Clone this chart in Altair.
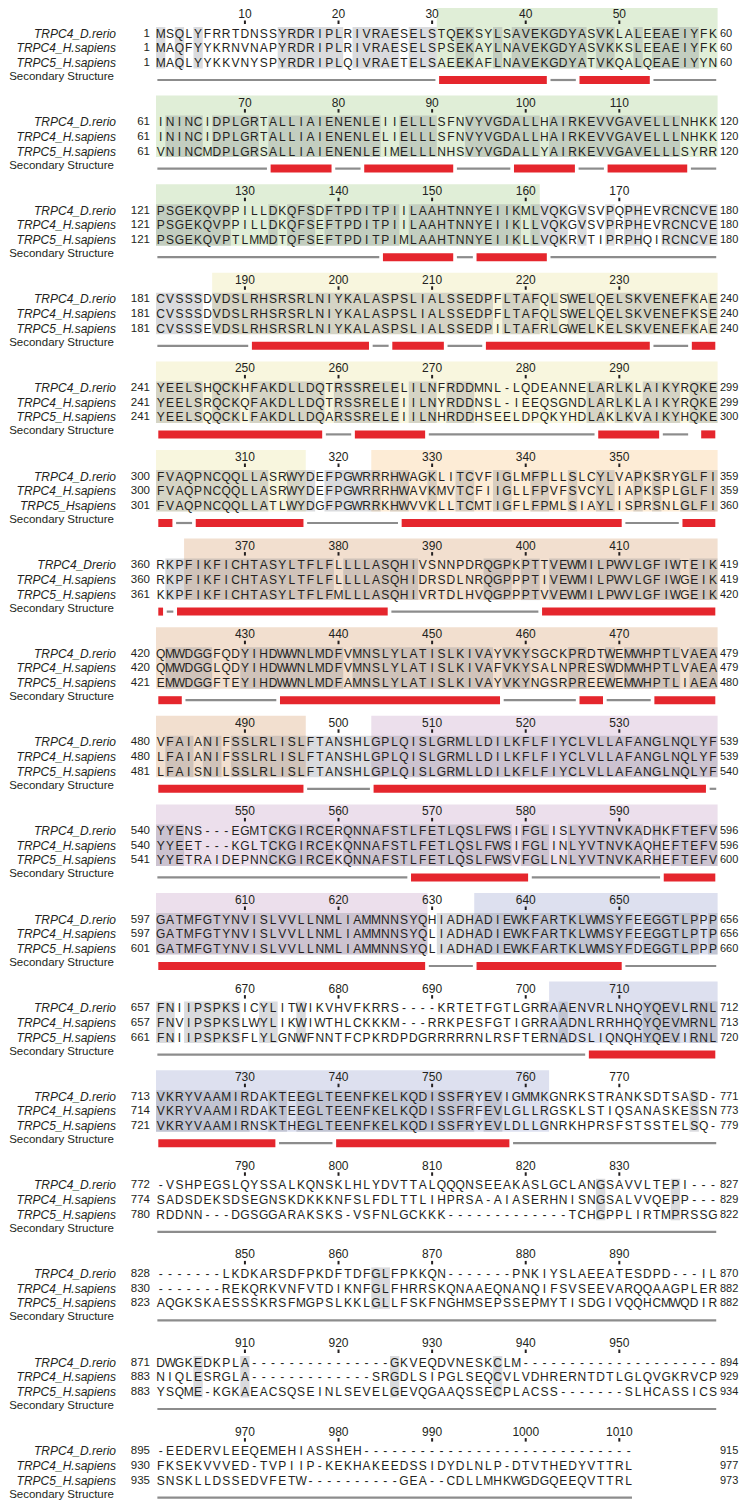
import altair as alt
import pandas as pd

# ---------------- data ----------------
NAMES = ["TRPC4_D.rerio", "TRPC4_H.sapiens", "TRPC5_H.sapiens"]
# (block index, row index) -> label as printed in that block
NAME_OVERRIDES = {(5, 2): "TRPC5_Hsapiens", (6, 0): "TRPC4_Drerio"}

SEQ_TRPC4_DRERIO = [
    "MSQLYFRRTDNSSYRDRIPLRIVRAESELSTQEKSYLSAVEKGDYASVKLALEEAEIYFK",
    "ININCIDPLGRTALLIAIENENLEIIELLLSFNVYVGDALLHAIRKEVVGAVELLLNHKK",
    "PSGEKQVPPILLDKQFSDFTPDITPIILAAHTNNYEIIKMLVQKGVSVPQPHEVRCNCVE",
    "CVSSSDVDSLRHSRSRLNIYKALASPSLIALSSEDPFLTAFQLSWELQELSKVENEFKAE",
    "YEELSHQCKHFAKDLLDQTRSSRELELILNFRDDMNL-LQDEANNELARLKLAIKYRQKE",
    "FVAQPNCQQLLASRWYDEFPGWRRRHWAGKLITCVFIGLMFPLLSLCYLVAPKSRYGLFI",
    "RKPFIKFICHTASYLTFLFLLLLASQHIVSNNPDRQGPKPTTVEWMILPWVLGFIWTEIK",
    "QMWDGGFQDYIHDWWNLMDFVMNSLYLATISLKIVAYVKYSGCKPRDTWEMWHPTLVAEA",
    "VFAIANIFSSLRLISLFTANSHLGPLQISLGRMLLDILKFLFIYCLVLLAFANGLNQLYF",
    "YYENS---EGMTCKGIRCERQNNAFSTLFETLQSLFWSIFGLISLYVTNVKADHKFTEFV",
    "GATMFGTYNVISLVVLLNMLIAMMNNSYQHIADHADIEWKFARTKLWMSYFEEGGTLPPP",
    "FNIIPSPKSICYLITWIKVHVFKRRS----KRTETFGTLGRRAAENVRLNHQYQEVLRNL",
    "VKRYVAAMIRDAKTEEGLTEENFKELKQDISSFRYEVIGMMKGNRKSTRANKSDTSASD-",
    "-VSHPEGSLQYSSALKQNSKLHLYDVTTALQQQNSEEAKASLGCLANGSAVVLTEPI---",
    "-------LKDKARSDFPKDFTDFGLFPKKQN-------PNKIYSLAEEATESDPD---IL",
    "DWGKEDKPLA" + "-" * 15 + "GKVEQDVNESKCLM" + "-" * 21,
    "-EEDERVLEEQEMEHIASSHEH" + "-" * 29,
]
SEQ_TRPC4_HSAP = [
    "MAQFYYKRNVNAPYRDRIPLRIVRAESELSPSEKAYLNAVEKGDYASVKKSLEEAEIYFK",
    "ININCIDPLGRTALLIAIENENLELIELLLSFNVYVGDALLHAIRKEVVGAVELLLNHKK",
    "PSGEKQVPPILLDKQFSEFTPDITPIILAAHTNNYEIIKLLVQKGVSVPRPHEVRCNCVE",
    "CVSSSDVDSLRHSRSRLNIYKALASPSLIALSSEDPFLTAFQLSWELQELSKVENEFKSE",
    "YEELSRQCKQFAKDLLDQTRSSRELEIILNYRDDNSL-IEEQSGNDLARLKLAIKYRQKE",
    "FVAQPNCQQLLASRWYDEFPGWRRRHWAVKMVTCFIIGLLFPVFSVCYLIAPKSPLGLFI",
    "RKPFIKFICHTASYLTFLFLLLLASQHIDRSDLNRQGPPPTIVEWMILPWVLGFIWGEIK",
    "QMWDGGLQDYIHDWWNLMDFVMNSLYLATISLKIVAFVKYSALNPRESWDMWHPTLVAEA",
    "LFAIANIFSSLRLISLFTANSHLGPLQISLGRMLLDILKFLFIYCLVLLAFANGLNQLYF",
    "YYEET---KGLTCKGIRCEKQNNAFSTLFETLQSLFWSIFGLINLYVTNVKAQHEFTEFV",
    "GATMFGTYNVISLVVLLNMLIAMMNNSYQLIADHADIEWKFARTKLWMSYFEEGGTLPTP",
    "FNVIPSPKSLWYLIKWIWTHLCKKKM---RRKPESFGTIGRRAADNLRRHHQYQEVMRNL",
    "VKRYVAAMIRDAKTEEGLTEENFKELKQDISSFRFEVLGLLRGSKLSTIQSANASKESSN",
    "SADSDEKSDSEGNSKDKKKNFSLFDLTTLIHPRSA-AIASERHNISNGSALVVQEPP---",
    "-------REKQRKVNFVTDIKNFGLFHRRSKQNAAEQNANQIFSVSEEVARQQAAGPLER",
    "NIQLESRGLA" + "-" * 13 + "SRGDLSIPGLSEQCVLVDHRERNTDTLGLQVGKRVCP",
    "FKSEKVVVED-TVPIIP-KEKHAKEEDSSIDYDLNLP-DTVTHEDYVTTRL",
]
SEQ_TRPC5_HSAP = [
    "MAQLYYKKVNYSPYRDRIPLQIVRAETELSAEEKAFLNAVEKGDYATVKQALQEAEIYYN",
    "VNINCMDPLGRSALLIAIENENLEIMELLLNHSVYVGDALLYAIRKEVVGAVELLLSYRR",
    "PSGEKQVPTLMMDTQFSEFTPDITPIMLAAHTNNYEIIKLLVQKRVTIPRPHQIRCNCVE",
    "CVSSSEVDSLRHSRSRLNIYKALASPSLIALSSEDPILTAFRLGWELKELSKVENEFKAE",
    "YEELSQQCKLFAKDLLDQARSSRELEIILNHRDDHSEELDPQKYHDLAKLKVAIKYHQKE",
    "FVAQPNCQQLLATLWYDGFPGWRRKHWVVKLLTCMTIGFLFPMLSIAYLISPRSNLGLFI",
    "KKPFIKFICHTASYLTFLFMLLLASQHIVRTDLHVQGPPPTVVEWMILPWVLGFIWGEIK",
    "EMWDGGFTEYIHDWWNLMDFAMNSLYLATISLKIVAYVKYNGSRPREEWEMWHPTLIAEA",
    "LFAISNILSSLRLISLFTANSHLGPLQISLGRMLLDILKFLFIYCLVLLAFANGLNQLYF",
    "YYETRAIDEPNNCKGIRCEKQNNAFSTLFETLQSLFWSVFGLLNLYVTNVKARHEFTEFV",
    "GATMFGTYNVISLVVLLNMLIAMMNNSYQLIADHADIEWKFARTKLWMSYFDEGGTLPPP",
    "FNIIPSPKSFLYLGNWFNNTFCPKRDPDGRRRRRNLRSFTERNADSLIQNQHYQEVIRNL",
    "VKRYVAAMIRNSKTHEGLTEENFKELKQDISSFRYEVLDLLGNRKHPRSFSTSSTELSQ-",
    "RDDNN---DGSGGARAKSKS-VSFNLGCKKK-------------TCHGPPLIRTMPRSSG",
    "AQGKSKAESSSKRSFMGPSLKKLGLLFSKFNGHMSEPSSEPMYTISDGIVQQHCMWQDIR",
    "YSQME-KGKAEACSQSEINLSEVELGEVQGAAQSSECPLACSS-------SLHCASSICS",
    "SNSKLLDSSEDVFETW----------GEA--CDLLMHKWGDGQEEQVTTRL",
]
SEQS = [SEQ_TRPC4_DRERIO, SEQ_TRPC4_HSAP, SEQ_TRPC5_HSAP]

START_NUMS = [
    [1, 61, 121, 181, 241, 300, 360, 420, 480, 540, 597, 657, 713, 772, 828, 871, 895],
    [1, 61, 121, 181, 241, 300, 360, 420, 480, 540, 597, 657, 714, 774, 830, 883, 930],
    [1, 61, 121, 181, 241, 301, 361, 421, 481, 541, 601, 661, 721, 780, 823, 883, 935],
]
END_NUMS = [
    [60, 120, 180, 240, 299, 359, 419, 479, 539, 596, 656, 712, 771, 827, 870, 894, 915],
    [60, 120, 180, 240, 299, 359, 419, 479, 539, 596, 656, 713, 773, 829, 882, 929, 977],
    [60, 120, 180, 240, 300, 360, 420, 480, 540, 600, 660, 720, 779, 822, 882, 934, 973],
]

# secondary structure per block: (first column, last column, kind) H = helix, C = coil
SS = [
    [(1, 30, "C"), (31, 42, "H"), (43, 45, "C"), (46, 53, "H"), (54, 60, "C")],
    [(1, 12, "C"), (13, 19, "H"), (20, 22, "C"), (23, 32, "H"), (33, 38, "C"),
     (39, 45, "H"), (46, 48, "C"), (49, 57, "H"), (58, 60, "C")],
    [(1, 24, "C"), (25, 32, "H"), (33, 34, "C"), (35, 42, "H"), (43, 60, "C")],
    [(1, 10, "C"), (11, 23, "H"), (24, 25, "C"), (26, 31, "H"), (32, 35, "C"),
     (36, 53, "H"), (54, 57, "C"), (58, 60, "H")],
    [(1, 18, "H"), (19, 21, "C"), (22, 29, "H"), (30, 47, "C"), (48, 54, "H"),
     (55, 57, "C"), (59, 60, "H")],
    [(1, 2, "H"), (3, 4, "C"), (5, 16, "H"), (17, 26, "C"), (27, 50, "H"),
     (51, 56, "C"), (57, 60, "H")],
    [(1, 1, "H"), (2, 2, "C"), (3, 25, "H"), (26, 41, "C"), (42, 60, "H")],
    [(1, 3, "H"), (4, 13, "C"), (14, 37, "H"), (38, 45, "C"), (46, 48, "H"),
     (49, 53, "C"), (54, 60, "H")],
    [(1, 16, "H"), (17, 23, "C"), (24, 59, "H"), (60, 60, "C")],
    [(1, 27, "C"), (28, 40, "H"), (41, 54, "C"), (55, 60, "H")],
    [(1, 29, "H"), (30, 34, "C"), (35, 50, "H"), (51, 60, "C")],
    [(1, 46, "C"), (47, 60, "H")],
    [(1, 13, "H"), (14, 19, "C"), (20, 38, "H"), (39, 60, "C")],
    [(1, 60, "C")],
    [(1, 60, "C")],
    [(1, 60, "C")],
    [(1, 51, "C")],
]

# domain background boxes: (block 1-based, first column, last column, domain)
BOXES = [
    (1, 31, 60, "d1"), (2, 1, 60, "d1"), (3, 1, 41, "d1"),
    (4, 7, 60, "d2"), (5, 1, 60, "d2"), (6, 1, 16, "d2"),
    (6, 24, 60, "d3"),
    (7, 4, 60, "d4"), (8, 1, 60, "d4"), (9, 1, 16, "d4"),
    (9, 24, 60, "d5"), (10, 1, 60, "d5"), (11, 1, 29, "d5"),
    (11, 35, 60, "d6"), (12, 43, 60, "d6"), (13, 1, 42, "d6"),
]
DOMAINS = ["d1", "d2", "d3", "d4", "d5", "d6"]
DOMAIN_COLORS = ["#e0eed7", "#f8f6de", "#fdecd6", "#f2dfcf", "#ecdfec", "#dde0ef"]

SS_LABEL = "Secondary Structure"

# ---------------- layout (scale units) ----------------
BLOCK_PX = 88.6               # pixels per block (y unit)
X_DOMAIN = [-15.812, 62.286]  # column units across the 731 px plot width
Y_DOMAIN = [-6 / BLOCK_PX, 1490 / BLOCK_PX]
ROW_OFF = [19.5, 34.2, 49.0]


def yo(i, px):
    return i + px / BLOCK_PX


nblocks = len(SEQ_TRPC4_DRERIO)

box_rows = []
for b, s, e, d in BOXES:
    i = b - 1
    box_rows.append(dict(x=s - 1, x2=e, y=yo(i, -7), y2=yo(i, 54.5), dom=d))

ident_rows, letter_rows, ruler_rows, tick_rows = [], [], [], []
name_rows, start_rows, end_rows, sslab_rows = [], [], [], []
coil_rows, helix_rows = [], []
INSET = 2.3 / 9.36

for i in range(nblocks):
    rows = [SEQS[k][i] for k in range(3)]
    ncol = len(rows[0])
    # identity runs
    run = None
    for c in range(ncol + 1):
        same = c < ncol and rows[0][c] != "-" and rows[0][c] == rows[1][c] == rows[2][c]
        if same and run is None:
            run = c
        elif not same and run is not None:
            ident_rows.append(dict(x=run, x2=c, y=yo(i, 13), y2=yo(i, 54.5)))
            run = None
    for k in range(3):
        for c, ch in enumerate(rows[k]):
            letter_rows.append(dict(x=c + 0.5, y=yo(i, ROW_OFF[k]), t=ch))
        name_rows.append(dict(x=-4.274, y=yo(i, ROW_OFF[k]),
                              t=NAME_OVERRIDES.get((i, k), NAMES[k])))
        start_rows.append(dict(x=-0.641, y=yo(i, ROW_OFF[k]), t=str(START_NUMS[k][i])))
        end_rows.append(dict(x=60.256, y=yo(i, ROW_OFF[k]), t=str(END_NUMS[k][i])))
    for c in range(10, ncol + 1, 10):
        if c % 60 == 0:
            continue
        ruler_rows.append(dict(x=c - 0.5, y=yo(i, 0), t=str(i * 60 + c)))
        tick_rows.append(dict(x=c - 0.5, y=yo(i, 6.5), y2=yo(i, 10)))
    sslab_rows.append(dict(x=-4.487, y=yo(i, 63), t=SS_LABEL))
    for s, e, kind in SS[i]:
        if kind == "H":
            helix_rows.append(dict(x=s - 1 + INSET, x2=e - INSET, y=yo(i, 62), y2=yo(i, 70)))
        else:
            coil_rows.append(dict(x=s - 1 + INSET * 0.6, x2=e - INSET * 0.6, y=yo(i, 66)))

xs = alt.Scale(domain=X_DOMAIN, nice=False, zero=False)
ys = alt.Scale(domain=Y_DOMAIN, nice=False, zero=False, reverse=True)


def X(f="x"):
    return alt.X(f"{f}:Q", scale=xs, axis=None)


def Y(f="y"):
    return alt.Y(f"{f}:Q", scale=ys, axis=None)


FONT = "Liberation Sans"
TXT = "#231f20"

boxes = alt.Chart(pd.DataFrame(box_rows)).mark_rect().encode(
    x=X(), x2="x2:Q", y=Y(), y2="y2:Q",
    color=alt.Color("dom:N", scale=alt.Scale(domain=DOMAINS, range=DOMAIN_COLORS), legend=None),
)
ident = alt.Chart(pd.DataFrame(ident_rows)).mark_rect(color="#70737e", opacity=0.26).encode(
    x=X(), x2="x2:Q", y=Y(), y2="y2:Q"
)
coil = alt.Chart(pd.DataFrame(coil_rows)).mark_rule(color="#8c8c8c", strokeWidth=2.2).encode(
    x=X(), x2="x2:Q", y=Y()
)
helix = alt.Chart(pd.DataFrame(helix_rows)).mark_rect(color="#e5262d").encode(
    x=X(), x2="x2:Q", y=Y(), y2="y2:Q"
)
letters = alt.Chart(pd.DataFrame(letter_rows)).mark_text(
    font=FONT, fontSize=12, color=TXT, align="center", baseline="middle"
).encode(x=X(), y=Y(), text="t:N")
ruler = alt.Chart(pd.DataFrame(ruler_rows)).mark_text(
    font=FONT, fontSize=12, color=TXT, align="center", baseline="middle"
).encode(x=X(), y=Y(), text="t:N")
ticks = alt.Chart(pd.DataFrame(tick_rows)).mark_rule(color=TXT, strokeWidth=2).encode(
    x=X(), y=Y(), y2="y2:Q"
)
names = alt.Chart(pd.DataFrame(name_rows)).mark_text(
    font=FONT, fontSize=12, fontStyle="italic", color=TXT, align="right", baseline="middle"
).encode(x=X(), y=Y(), text="t:N")
starts = alt.Chart(pd.DataFrame(start_rows)).mark_text(
    font=FONT, fontSize=11.5, color=TXT, align="right", baseline="middle"
).encode(x=X(), y=Y(), text="t:N")
ends = alt.Chart(pd.DataFrame(end_rows)).mark_text(
    font=FONT, fontSize=11, color=TXT, align="left", baseline="middle"
).encode(x=X(), y=Y(), text="t:N")
sslab = alt.Chart(pd.DataFrame(sslab_rows)).mark_text(
    font=FONT, fontSize=11.5, color=TXT, align="right", baseline="middle"
).encode(x=X(), y=Y(), text="t:N")

chart = alt.layer(
    boxes, ident, coil, helix, ticks, ruler, letters, names, starts, ends, sslab
).properties(
    width=731, height=1496,
    autosize=alt.AutoSizeParams(type="none"),
    padding=0,
    background="white",
).configure_view(strokeWidth=0)

chart.save("out.html", embed_options={"renderer": "svg", "actions": False})
